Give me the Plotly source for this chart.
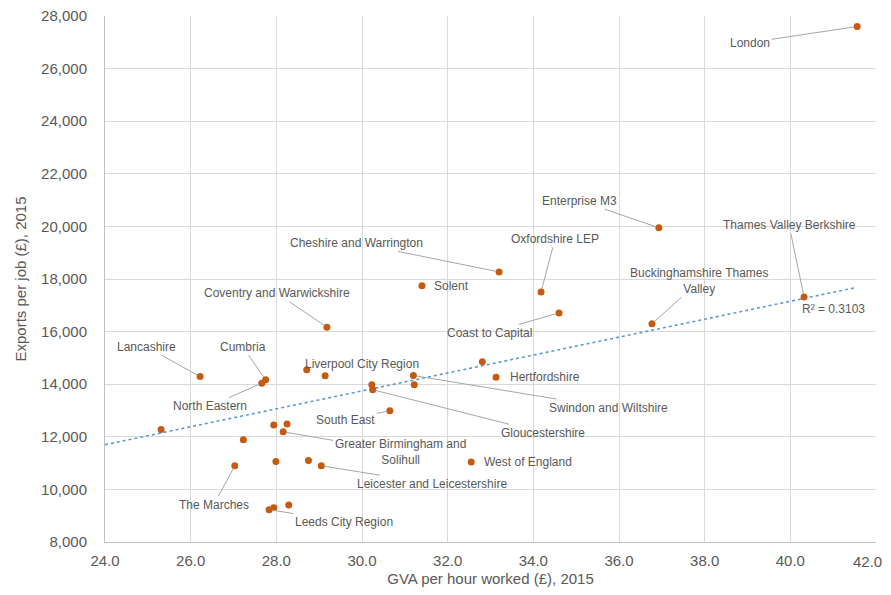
"""
Exports per job vs GVA per hour worked, by LEP area (2015)
Scatter with labelled points and a linear trendline
"""
import plotly.graph_objects as go

# region names (empty string = point without a label)
regions = [
    "London", "Enterprise M3", "Thames Valley Berkshire", "Cheshire and Warrington",
    "Oxfordshire LEP", "Solent", "Coast to Capital", "Buckinghamshire Thames<br>Valley",
    "Coventry and Warwickshire", "Lancashire", "Cumbria", "North Eastern",
    "Liverpool City Region", "", "", "Gloucestershire",
    "Swindon and Wiltshire", "", "South East", "",
    "Hertfordshire", "West of England", "Greater Birmingham and<br>Solihull", "",
    "", "", "", "The Marches",
    "", "", "Leicester and Leicestershire", "Leeds City Region",
    "", "",
]
gva_per_hour = [
    41.56, 36.93, 40.32, 33.20,
    34.18, 31.40, 34.60, 36.77,
    29.18, 26.22, 27.75, 27.66,
    28.71, 29.14, 30.23, 30.25,
    31.20, 31.22, 30.65, 32.81,
    33.13, 32.55, 28.16, 27.94,
    28.25, 25.31, 27.23, 27.03,
    27.99, 28.75, 29.05, 27.83,
    27.94, 28.29,
]
exports_per_job = [
    27600, 19950, 17320, 18270,
    17510, 17740, 16710, 16300,
    16170, 14290, 14170, 14040,
    14550, 14320, 13980, 13790,
    14330, 13980, 12990, 14850,
    14260, 11040, 12190, 12450,
    12490, 12280, 11890, 10900,
    11060, 11100, 10900, 9230,
    9300, 9410,
]

# x axis ticks
x_ticks = [24, 26, 28, 30, 32, 34, 36, 38, 40, 42]
x_tick_labels = ["24.0", "26.0", "28.0", "30.0", "32.0", "34.0", "36.0", "38.0", "40.0", "42.0"]

# linear trendline as shown in the chart (end points)
trend_gva = [24.0, 41.53]
trend_exports = [11700, 17675]
r_squared_text = "R² = 0.3103"

# label offsets in pixels (dx, dy) from the point, drawn with a leader line
label_offsets = {
    "London": (-107, 16),
    "Enterprise M3": (-79, -27),
    "Thames Valley Berkshire": (-15, -72),
    "Cheshire and Warrington": (-143, -29),
    "Oxfordshire LEP": (14, -53),
    "Coast to Capital": (-70, 20),
    "Buckinghamshire Thames<br>Valley": (48, -43),
    "Coventry and Warwickshire": (-50, -34),
    "Lancashire": (-54, -30),
    "Cumbria": (-23, -33),
    "North Eastern": (-52, 23),
    "Liverpool City Region": (55, -6),
    "Gloucestershire": (170, 43),
    "Swindon and Wiltshire": (195, 32),
    "South East": (-44, 9),
    "Greater Birmingham and<br>Solihull": (117, 20),
    "Leicester and Leicestershire": (111, 18),
    "The Marches": (-21, 39),
    "Leeds City Region": (75, 12),
}
# labels sitting right next to their point (no leader)
plain_labels = {"Solent": 10, "Hertfordshire": 12, "West of England": 11}

text_grey = "#595959"
font_family = "Liberation Sans, Arial, sans-serif"

fig = go.Figure()

fig.add_trace(go.Scatter(
    x=trend_gva,
    y=trend_exports,
    mode="lines",
    line=dict(color="#5B9BD5", width=1.6, dash="dot"),
    hoverinfo="skip",
))

fig.add_trace(go.Scatter(
    x=gva_per_hour,
    y=exports_per_job,
    mode="markers",
    marker=dict(color="#C55A11", size=7),
    text=regions,
))

annotations = []
for name, gx, ey in zip(regions, gva_per_hour, exports_per_job):
    if not name:
        continue
    if name in label_offsets:
        dx, dy = label_offsets[name]
        annotations.append(dict(
            x=gx, y=ey, xref="x", yref="y",
            text=name, showarrow=True, ax=dx, ay=dy,
            arrowhead=0, arrowwidth=1, arrowcolor="#a6a6a6",
            standoff=3, font=dict(size=12, color=text_grey),
        ))
    elif name in plain_labels:
        annotations.append(dict(
            x=gx, y=ey, xref="x", yref="y",
            text=name, showarrow=False, xanchor="left",
            xshift=plain_labels[name], font=dict(size=12, color=text_grey),
        ))

# R² label just below the end of the trendline
annotations.append(dict(
    x=trend_gva[-1], y=trend_exports[-1],
    xref="x", yref="y", text=r_squared_text, showarrow=False,
    xanchor="center", xshift=-22, yshift=-21,
    font=dict(size=12, color=text_grey),
))

# last x tick label sits at the window edge: draw it as an annotation kept inside
annotations.append(dict(
    x=x_ticks[-1], y=0, xref="x", yref="paper",
    text=x_tick_labels[-1], showarrow=False,
    xanchor="right", yanchor="middle", xshift=8, yshift=-19,
    font=dict(size=15, color=text_grey),
))

# page body has an 8px margin, so the figure is kept inside the window
fig.update_layout(
    width=883,
    height=579,
    showlegend=False,
    plot_bgcolor="white",
    paper_bgcolor="white",
    font=dict(family=font_family, color=text_grey, size=15),
    margin=dict(l=97, r=15, t=8, b=45),
    annotations=annotations,
    xaxis=dict(
        range=[24, 42],
        tickvals=x_ticks,
        ticktext=x_tick_labels[:-1] + [""],
        showgrid=True,
        gridcolor="#d9d9d9",
        showline=True,
        linecolor="#bfbfbf",
        zeroline=False,
        ticks="",
        ticklabelstandoff=5,
        ticklabeloverflow="allow",
        automargin=False,
        tickfont=dict(size=15),
        title=dict(text="GVA per hour worked (£), 2015", font=dict(size=15), standoff=7),
    ),
    yaxis=dict(
        range=[8000, 28000],
        dtick=2000,
        tickformat=",",
        showgrid=True,
        gridcolor="#d9d9d9",
        showline=True,
        linecolor="#bfbfbf",
        zeroline=False,
        ticks="",
        ticklabelstandoff=14,
        ticklabeloverflow="allow",
        automargin=False,
        tickfont=dict(size=15),
        title=dict(text="Exports per job (£), 2015", font=dict(size=15), standoff=10),
    ),
)

fig.write_html("out.html")
